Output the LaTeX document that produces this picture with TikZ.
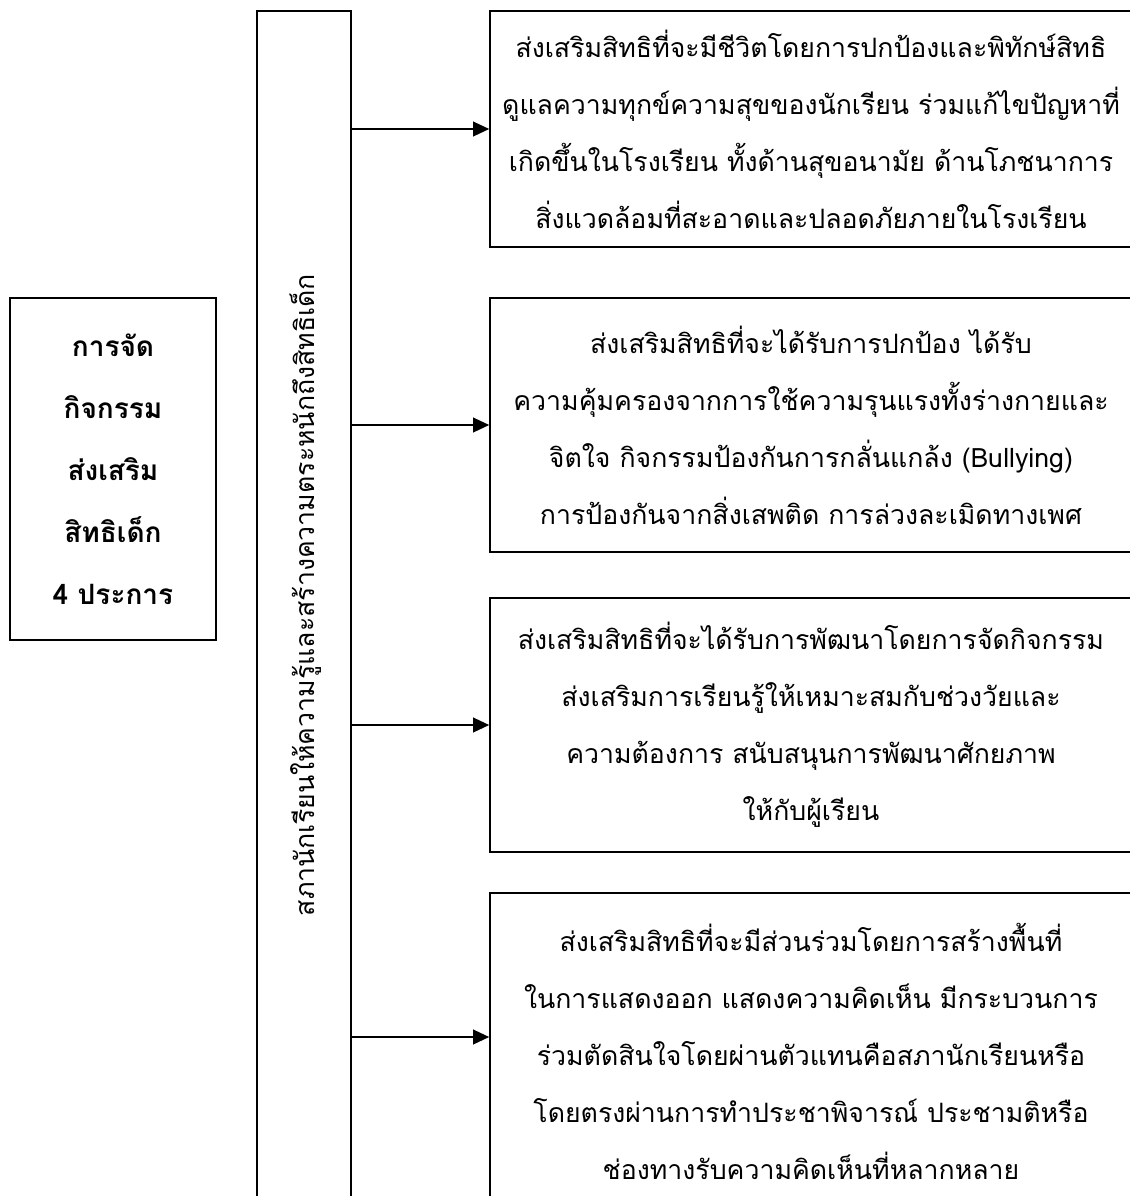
\documentclass[tikz,border=0pt]{standalone}
\usepackage{fontspec}
\setmainfont{Liberation Serif}
\newfontfamily\thai[Script=Thai]{Loma}
\usetikzlibrary{arrows.meta}
\begin{document}
\begin{tikzpicture}[x=0.75pt,y=-0.75pt,
  box/.style={draw, line width=1.2pt, rectangle, inner sep=0pt},
  arr/.style={line width=1.2pt, -{Triangle[length=12pt,width=11pt]}},
  txt/.style={font=\thai\fontsize{20}{42.75}\selectfont, align=center},
  vtxt/.style={font=\thai\fontsize{20}{24}\selectfont},
  btxt/.style={font=\thai\bfseries\fontsize{21}{46.5}\selectfont, align=center}]
\useasboundingbox (0,0) rectangle (1130,1196);
\clip (0,0) rectangle (1130,1196);

% left box
\node[box, btxt, minimum width=154.5pt, minimum height=256.5pt] (main) at (113,469)
  {การจัด\\กิจกรรม\\ส่งเสริม\\สิทธิเด็ก\\4 ประการ};

% vertical box
\node[box, minimum width=70.5pt, minimum height=903pt] (council) at (304,613) {};
\node[vtxt, rotate=90] (councillabel) at (306,595)
  {สภานักเรียนให้ความรู้และสร้างความตระหนักถึงสิทธิเด็ก};

% right boxes
\node[box, txt, minimum width=481.5pt, minimum height=177pt] (b1) at (811,129)
  {ส่งเสริมสิทธิที่จะมีชีวิตโดยการปกป้องและพิทักษ์สิทธิ\\
   ดูแลความทุกข์ความสุขของนักเรียน ร่วมแก้ไขปัญหาที่\\
   เกิดขึ้นในโรงเรียน ทั้งด้านสุขอนามัย ด้านโภชนาการ\\
   สิ่งแวดล้อมที่สะอาดและปลอดภัยภายในโรงเรียน};
\node[box, txt, minimum width=481.5pt, minimum height=190.5pt] (b2) at (811,425)
  {ส่งเสริมสิทธิที่จะได้รับการปกป้อง ได้รับ\\
   ความคุ้มครองจากการใช้ความรุนแรงทั้งร่างกายและ\\
   จิตใจ กิจกรรมป้องกันการกลั่นแกล้ง (Bullying)\\
   การป้องกันจากสิ่งเสพติด การล่วงละเมิดทางเพศ};
\node[box, txt, minimum width=481.5pt, minimum height=190.5pt] (b3) at (811,725)
  {ส่งเสริมสิทธิที่จะได้รับการพัฒนาโดยการจัดกิจกรรม\\
   ส่งเสริมการเรียนรู้ให้เหมาะสมกับช่วงวัยและ\\
   ความต้องการ สนับสนุนการพัฒนาศักยภาพ\\
   ให้กับผู้เรียน};
\node[box, txt, minimum width=481.5pt, minimum height=237.75pt] (b4) at (811,1051.5)
  {ส่งเสริมสิทธิที่จะมีส่วนร่วมโดยการสร้างพื้นที่\\
   ในการแสดงออก แสดงความคิดเห็น มีกระบวนการ\\
   ร่วมตัดสินใจโดยผ่านตัวแทนคือสภานักเรียนหรือ\\
   โดยตรงผ่านการทำประชาพิจารณ์ ประชามติหรือ\\
   ช่องทางรับความคิดเห็นที่หลากหลาย};

% arrows
\coordinate (a1) at (0,129);
\coordinate (a2) at (0,425);
\coordinate (a3) at (0,725);
\coordinate (a4) at (0,1037);
\draw[arr] (council.east |- a1) -- (b1.west |- a1);
\draw[arr] (council.east |- a2) -- (b2.west |- a2);
\draw[arr] (council.east |- a3) -- (b3.west |- a3);
\draw[arr] (council.east |- a4) -- (b4.west |- a4);
\end{tikzpicture}
\end{document}
